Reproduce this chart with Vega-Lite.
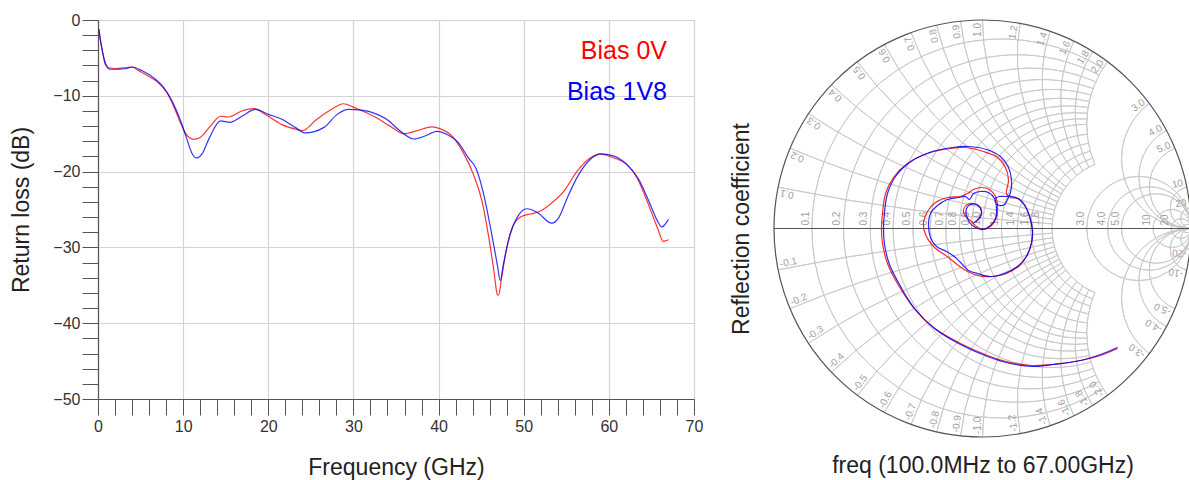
{
  "$schema": "https://vega.github.io/schema/vega-lite/v6.json",
  "background": "white",
  "padding": {"left": 9, "top": 11, "right": 0, "bottom": 0},
  "config": {"font": "Liberation Sans", "view": {"stroke": "#8c8c8c", "strokeWidth": 1}},
  "spacing": 80,
  "bounds": "flush",
  "resolve": {"scale": {"color": "independent"}, "legend": {"color": "independent"}},
  "datasets": {
    "rl": [
      {"series": "Bias 0V", "f": 0.1, "db": -1.2}, {"series": "Bias 0V", "f": 0.27, "db": -2.55}, {"series": "Bias 0V", "f": 0.55, "db": -4.3}, {"series": "Bias 0V", "f": 0.86, "db": -5.6}, {"series": "Bias 0V", "f": 1.25, "db": -6.3}, {"series": "Bias 0V", "f": 2.0, "db": -6.4}, {"series": "Bias 0V", "f": 3.2, "db": -6.3}, {"series": "Bias 0V", "f": 4.0, "db": -6.2}, {"series": "Bias 0V", "f": 4.8, "db": -6.7}, {"series": "Bias 0V", "f": 5.9, "db": -7.4}, {"series": "Bias 0V", "f": 7.1, "db": -8.3}, {"series": "Bias 0V", "f": 8.1, "db": -9.6}, {"series": "Bias 0V", "f": 8.9, "db": -11.4}, {"series": "Bias 0V", "f": 9.7, "db": -13.6}, {"series": "Bias 0V", "f": 10.25, "db": -14.9}, {"series": "Bias 0V", "f": 11.2, "db": -15.75}, {"series": "Bias 0V", "f": 12.0, "db": -15.5}, {"series": "Bias 0V", "f": 13.2, "db": -14.0}, {"series": "Bias 0V", "f": 14.4, "db": -12.7}, {"series": "Bias 0V", "f": 15.3, "db": -12.8}, {"series": "Bias 0V", "f": 16.9, "db": -12.0}, {"series": "Bias 0V", "f": 18.3, "db": -11.7}, {"series": "Bias 0V", "f": 20.0, "db": -12.7}, {"series": "Bias 0V", "f": 21.6, "db": -13.8}, {"series": "Bias 0V", "f": 23.2, "db": -14.4}, {"series": "Bias 0V", "f": 24.0, "db": -14.6}, {"series": "Bias 0V", "f": 25.7, "db": -13.1}, {"series": "Bias 0V", "f": 27.7, "db": -11.6}, {"series": "Bias 0V", "f": 28.8, "db": -11.05}, {"series": "Bias 0V", "f": 30.4, "db": -11.7}, {"series": "Bias 0V", "f": 32.4, "db": -12.7}, {"series": "Bias 0V", "f": 34.3, "db": -14.0}, {"series": "Bias 0V", "f": 35.9, "db": -15.0}, {"series": "Bias 0V", "f": 37.5, "db": -14.6}, {"series": "Bias 0V", "f": 39.2, "db": -14.1}, {"series": "Bias 0V", "f": 40.3, "db": -14.4}, {"series": "Bias 0V", "f": 41.4, "db": -15.1}, {"series": "Bias 0V", "f": 42.9, "db": -17.5}, {"series": "Bias 0V", "f": 44.1, "db": -20.4}, {"series": "Bias 0V", "f": 45.1, "db": -23.9}, {"series": "Bias 0V", "f": 45.9, "db": -28.7}, {"series": "Bias 0V", "f": 46.5, "db": -33.1}, {"series": "Bias 0V", "f": 46.9, "db": -36.2}, {"series": "Bias 0V", "f": 47.05, "db": -36.3}, {"series": "Bias 0V", "f": 47.4, "db": -34.0}, {"series": "Bias 0V", "f": 48.0, "db": -30.1}, {"series": "Bias 0V", "f": 48.8, "db": -27.0}, {"series": "Bias 0V", "f": 49.8, "db": -25.9}, {"series": "Bias 0V", "f": 50.8, "db": -25.6}, {"series": "Bias 0V", "f": 51.95, "db": -25.2}, {"series": "Bias 0V", "f": 53.1, "db": -24.3}, {"series": "Bias 0V", "f": 54.7, "db": -22.6}, {"series": "Bias 0V", "f": 56.3, "db": -19.9}, {"series": "Bias 0V", "f": 57.8, "db": -18.2}, {"series": "Bias 0V", "f": 59.0, "db": -17.7}, {"series": "Bias 0V", "f": 60.6, "db": -18.2}, {"series": "Bias 0V", "f": 62.1, "db": -19.05}, {"series": "Bias 0V", "f": 63.3, "db": -20.8}, {"series": "Bias 0V", "f": 64.5, "db": -23.9}, {"series": "Bias 0V", "f": 65.7, "db": -27.4}, {"series": "Bias 0V", "f": 66.4, "db": -29.2}, {"series": "Bias 0V", "f": 67.0, "db": -29.0},
      {"series": "Bias 1V8", "f": 0.1, "db": -1.2}, {"series": "Bias 1V8", "f": 0.27, "db": -2.55}, {"series": "Bias 1V8", "f": 0.55, "db": -4.3}, {"series": "Bias 1V8", "f": 0.86, "db": -5.85}, {"series": "Bias 1V8", "f": 1.45, "db": -6.5}, {"series": "Bias 1V8", "f": 2.4, "db": -6.5}, {"series": "Bias 1V8", "f": 3.4, "db": -6.4}, {"series": "Bias 1V8", "f": 4.0, "db": -6.2}, {"series": "Bias 1V8", "f": 5.2, "db": -6.7}, {"series": "Bias 1V8", "f": 6.5, "db": -7.6}, {"series": "Bias 1V8", "f": 7.7, "db": -8.9}, {"series": "Bias 1V8", "f": 8.7, "db": -10.7}, {"series": "Bias 1V8", "f": 9.7, "db": -13.3}, {"series": "Bias 1V8", "f": 10.45, "db": -15.75}, {"series": "Bias 1V8", "f": 11.0, "db": -17.5}, {"series": "Bias 1V8", "f": 11.6, "db": -18.2}, {"series": "Bias 1V8", "f": 12.2, "db": -17.7}, {"series": "Bias 1V8", "f": 13.0, "db": -15.75}, {"series": "Bias 1V8", "f": 14.4, "db": -13.3}, {"series": "Bias 1V8", "f": 15.5, "db": -13.5}, {"series": "Bias 1V8", "f": 16.9, "db": -12.7}, {"series": "Bias 1V8", "f": 18.5, "db": -11.8}, {"series": "Bias 1V8", "f": 20.0, "db": -12.45}, {"series": "Bias 1V8", "f": 21.6, "db": -13.1}, {"series": "Bias 1V8", "f": 23.2, "db": -14.2}, {"series": "Bias 1V8", "f": 24.35, "db": -14.9}, {"series": "Bias 1V8", "f": 26.5, "db": -14.2}, {"series": "Bias 1V8", "f": 28.1, "db": -12.45}, {"series": "Bias 1V8", "f": 29.4, "db": -11.8}, {"series": "Bias 1V8", "f": 31.0, "db": -11.9}, {"series": "Bias 1V8", "f": 32.8, "db": -12.45}, {"series": "Bias 1V8", "f": 33.9, "db": -13.1}, {"series": "Bias 1V8", "f": 35.5, "db": -14.65}, {"series": "Bias 1V8", "f": 37.1, "db": -15.7}, {"series": "Bias 1V8", "f": 38.4, "db": -15.3}, {"series": "Bias 1V8", "f": 39.8, "db": -14.7}, {"series": "Bias 1V8", "f": 41.0, "db": -15.1}, {"series": "Bias 1V8", "f": 42.35, "db": -16.2}, {"series": "Bias 1V8", "f": 43.5, "db": -18.2}, {"series": "Bias 1V8", "f": 44.4, "db": -19.6}, {"series": "Bias 1V8", "f": 45.3, "db": -23.0}, {"series": "Bias 1V8", "f": 46.1, "db": -27.4}, {"series": "Bias 1V8", "f": 46.9, "db": -32.3}, {"series": "Bias 1V8", "f": 47.25, "db": -34.4}, {"series": "Bias 1V8", "f": 47.6, "db": -32.3}, {"series": "Bias 1V8", "f": 48.4, "db": -28.3}, {"series": "Bias 1V8", "f": 49.2, "db": -26.1}, {"series": "Bias 1V8", "f": 50.4, "db": -24.9}, {"series": "Bias 1V8", "f": 51.6, "db": -25.4}, {"series": "Bias 1V8", "f": 53.3, "db": -26.8}, {"series": "Bias 1V8", "f": 54.1, "db": -26.1}, {"series": "Bias 1V8", "f": 55.1, "db": -23.5}, {"series": "Bias 1V8", "f": 56.45, "db": -20.4}, {"series": "Bias 1V8", "f": 57.8, "db": -18.4}, {"series": "Bias 1V8", "f": 59.0, "db": -17.65}, {"series": "Bias 1V8", "f": 60.6, "db": -17.95}, {"series": "Bias 1V8", "f": 62.1, "db": -19.05}, {"series": "Bias 1V8", "f": 63.5, "db": -21.0}, {"series": "Bias 1V8", "f": 64.7, "db": -23.9}, {"series": "Bias 1V8", "f": 65.7, "db": -26.5}, {"series": "Bias 1V8", "f": 66.2, "db": -27.3}, {"series": "Bias 1V8", "f": 67.0, "db": -26.3}
    ],
    "grid": [
      {"gx": 0.0909, "gy": 0, "rad": 0.9091, "t1": -3.7070, "t2": 0.5654},
      {"gx": 0.1667, "gy": 0, "rad": 0.8333, "t1": -3.6316, "t2": 0.4900},
      {"gx": 0.2308, "gy": 0, "rad": 0.7692, "t1": -3.5596, "t2": 0.4180},
      {"gx": 0.2857, "gy": 0, "rad": 0.7143, "t1": -3.4910, "t2": 0.3494},
      {"gx": 0.3333, "gy": 0, "rad": 0.6667, "t1": -3.4254, "t2": 0.2838},
      {"gx": 0.375, "gy": 0, "rad": 0.625, "t1": -3.3630, "t2": 0.2214},
      {"gx": 0.4118, "gy": 0, "rad": 0.5882, "t1": -3.3034, "t2": 0.1618},
      {"gx": 0.4444, "gy": 0, "rad": 0.5556, "t1": -3.2468, "t2": 0.1052},
      {"gx": 0.4737, "gy": 0, "rad": 0.5263, "t1": -3.1928, "t2": 0.0512},
      {"gx": 0.5, "gy": 0, "rad": 0.5, "t1": -3.1416, "t2": 0},
      {"gx": 0.5455, "gy": 0, "rad": 0.4545, "t1": -3.0464, "t2": -0.0952},
      {"gx": 0.5833, "gy": 0, "rad": 0.4167, "t1": -2.9602, "t2": -0.1814},
      {"gx": 0.6154, "gy": 0, "rad": 0.3846, "t1": -2.8822, "t2": -0.2594},
      {"gx": 0.6429, "gy": 0, "rad": 0.3571, "t1": -2.8112, "t2": -0.3304},
      {"gx": 0.6667, "gy": 0, "rad": 0.3333, "t1": -2.7468, "t2": -0.3948},
      {"gx": 0.75, "gy": 0, "rad": 0.25, "t1": 0, "t2": 6.2832},
      {"gx": 0.8, "gy": 0, "rad": 0.2, "t1": 0, "t2": 6.2832},
      {"gx": 0.8333, "gy": 0, "rad": 0.1667, "t1": 0, "t2": 6.2832},
      {"gx": 0.9091, "gy": 0, "rad": 0.0909, "t1": 0, "t2": 6.2832},
      {"gx": 0.9524, "gy": 0, "rad": 0.0476, "t1": 0, "t2": 6.2832},
      {"gx": 0.9804, "gy": 0, "rad": 0.0196, "t1": 0, "t2": 6.2832},
      {"gx": 1, "gy": 10, "rad": 10, "t1": 3.2082, "t2": 3.3409},
      {"gx": 1, "gy": 5, "rad": 5, "t1": 3.2747, "t2": 3.5364},
      {"gx": 1, "gy": 3.3333, "rad": 3.3333, "t1": 3.3409, "t2": 3.7245},
      {"gx": 1, "gy": 2.5, "rad": 2.5, "t1": 3.4067, "t2": 3.9026},
      {"gx": 1, "gy": 2, "rad": 2, "t1": 3.4719, "t2": 4.0689},
      {"gx": 1, "gy": 1.6667, "rad": 1.6667, "t1": 3.5364, "t2": 4.2224},
      {"gx": 1, "gy": 1.4286, "rad": 1.4286, "t1": 3.6001, "t2": 4.3630},
      {"gx": 1, "gy": 1.25, "rad": 1.25, "t1": 3.6631, "t2": 4.4911},
      {"gx": 1, "gy": 1.1111, "rad": 1.1111, "t1": 3.7245, "t2": 4.6072},
      {"gx": 1, "gy": 1, "rad": 1, "t1": 3.7851, "t2": 4.7124},
      {"gx": 1, "gy": 0.8333, "rad": 0.8333, "t1": 3.9026, "t2": 4.8937},
      {"gx": 1, "gy": 0.7143, "rad": 0.7143, "t1": 4.0163, "t2": 5.0427},
      {"gx": 1, "gy": 0.625, "rad": 0.625, "t1": 4.1215, "t2": 5.1660},
      {"gx": 1, "gy": 0.5556, "rad": 0.5556, "t1": 4.2224, "t2": 5.2690},
      {"gx": 1, "gy": 0.5, "rad": 0.5, "t1": 4.3176, "t2": 5.3559},
      {"gx": 1, "gy": -10, "rad": 10, "t1": -0.1993, "t2": -0.0666},
      {"gx": 1, "gy": -5, "rad": 5, "t1": -0.3948, "t2": -0.1331},
      {"gx": 1, "gy": -3.3333, "rad": 3.3333, "t1": -0.5829, "t2": -0.1993},
      {"gx": 1, "gy": -2.5, "rad": 2.5, "t1": -0.7610, "t2": -0.2651},
      {"gx": 1, "gy": -2, "rad": 2, "t1": -0.9273, "t2": -0.3303},
      {"gx": 1, "gy": -1.6667, "rad": 1.6667, "t1": -1.0808, "t2": -0.3948},
      {"gx": 1, "gy": -1.4286, "rad": 1.4286, "t1": -1.2215, "t2": -0.4585},
      {"gx": 1, "gy": -1.25, "rad": 1.25, "t1": -1.3495, "t2": -0.5215},
      {"gx": 1, "gy": -1.1111, "rad": 1.1111, "t1": -1.4656, "t2": -0.5829},
      {"gx": 1, "gy": -1, "rad": 1, "t1": -1.5708, "t2": -0.6435},
      {"gx": 1, "gy": -0.8333, "rad": 0.8333, "t1": -1.7521, "t2": -0.7610},
      {"gx": 1, "gy": -0.7143, "rad": 0.7143, "t1": -1.9011, "t2": -0.8747},
      {"gx": 1, "gy": -0.625, "rad": 0.625, "t1": -2.0244, "t2": -0.9799},
      {"gx": 1, "gy": -0.5556, "rad": 0.5556, "t1": -2.1274, "t2": -1.0808},
      {"gx": 1, "gy": -0.5, "rad": 0.5, "t1": -2.2143, "t2": -1.1760},
      {"gx": 1, "gy": 0.3333, "rad": 0.3333, "t1": 3.1416, "t2": 5.6397},
      {"gx": 1, "gy": 0.25, "rad": 0.25, "t1": 3.1416, "t2": 5.7932},
      {"gx": 1, "gy": 0.2, "rad": 0.2, "t1": 3.1416, "t2": 5.8884},
      {"gx": 1, "gy": 0.1, "rad": 0.1, "t1": 3.1416, "t2": 6.0839},
      {"gx": 1, "gy": 0.05, "rad": 0.05, "t1": 3.1416, "t2": 6.1833},
      {"gx": 1, "gy": -0.3333, "rad": 0.3333, "t1": -2.4981, "t2": 0},
      {"gx": 1, "gy": -0.25, "rad": 0.25, "t1": -2.6516, "t2": 0},
      {"gx": 1, "gy": -0.2, "rad": 0.2, "t1": -2.7468, "t2": 0},
      {"gx": 1, "gy": -0.1, "rad": 0.1, "t1": -2.9423, "t2": 0},
      {"gx": 1, "gy": -0.05, "rad": 0.05, "t1": -3.0417, "t2": 0}
    ],
    "rim": [{"gx": 0, "gy": 0, "rad": 1, "t1": 0, "t2": 6.2832}],
    "axisline": [{"gx": -1, "gx2": 1, "gy": 0}],
    "rlab": [
      {"lab": "0.1", "gx": -0.8182, "gy": 0}, {"lab": "0.2", "gx": -0.6667, "gy": 0}, {"lab": "0.3", "gx": -0.5385, "gy": 0}, {"lab": "0.4", "gx": -0.4286, "gy": 0}, {"lab": "0.5", "gx": -0.3333, "gy": 0}, {"lab": "0.6", "gx": -0.25, "gy": 0}, {"lab": "0.7", "gx": -0.1765, "gy": 0}, {"lab": "0.8", "gx": -0.1111, "gy": 0}, {"lab": "0.9", "gx": -0.0526, "gy": 0}, {"lab": "1.0", "gx": 0, "gy": 0}, {"lab": "1.2", "gx": 0.0909, "gy": 0}, {"lab": "1.4", "gx": 0.1667, "gy": 0}, {"lab": "1.6", "gx": 0.2308, "gy": 0}, {"lab": "1.8", "gx": 0.2857, "gy": 0}, {"lab": "3.0", "gx": 0.5, "gy": 0}, {"lab": "4.0", "gx": 0.6, "gy": 0}, {"lab": "5.0", "gx": 0.6667, "gy": 0}, {"lab": "10", "gx": 0.8182, "gy": 0}, {"lab": "20", "gx": 0.9048, "gy": 0}
    ],
    "ulab": [
      {"lab": "0.1", "gx": -0.9802, "gy": 0.198}, {"lab": "0.2", "gx": -0.9231, "gy": 0.3846}, {"lab": "0.3", "gx": -0.8349, "gy": 0.5505}, {"lab": "0.4", "gx": -0.7241, "gy": 0.6897}, {"lab": "0.5", "gx": -0.6, "gy": 0.8}, {"lab": "0.6", "gx": -0.4706, "gy": 0.8824}, {"lab": "0.7", "gx": -0.3423, "gy": 0.9396}, {"lab": "0.8", "gx": -0.2195, "gy": 0.9756}, {"lab": "0.9", "gx": -0.105, "gy": 0.9945}, {"lab": "1.0", "gx": 0.0001, "gy": 1}, {"lab": "1.2", "gx": 0.1803, "gy": 0.9836}, {"lab": "1.4", "gx": 0.3243, "gy": 0.9459}, {"lab": "1.6", "gx": 0.4382, "gy": 0.8989}, {"lab": "1.8", "gx": 0.5283, "gy": 0.8491}, {"lab": "2.0", "gx": 0.6, "gy": 0.8}, {"lab": "3.0", "gx": 0.8, "gy": 0.6}, {"lab": "4.0", "gx": 0.8824, "gy": 0.4706}, {"lab": "5.0", "gx": 0.9231, "gy": 0.3846}, {"lab": "10", "gx": 0.9802, "gy": 0.198}, {"lab": "20", "gx": 0.995, "gy": 0.0998}
    ],
    "llab": [
      {"lab": "-0.1", "gx": -0.9802, "gy": -0.198}, {"lab": "-0.2", "gx": -0.9231, "gy": -0.3846}, {"lab": "-0.3", "gx": -0.8349, "gy": -0.5505}, {"lab": "-0.4", "gx": -0.7241, "gy": -0.6897}, {"lab": "-0.5", "gx": -0.6, "gy": -0.8}, {"lab": "-0.6", "gx": -0.4706, "gy": -0.8824}, {"lab": "-0.7", "gx": -0.3423, "gy": -0.9396}, {"lab": "-0.8", "gx": -0.2195, "gy": -0.9756}, {"lab": "-0.9", "gx": -0.105, "gy": -0.9945}, {"lab": "-1.0", "gx": 0.0001, "gy": -1}, {"lab": "-1.2", "gx": 0.1803, "gy": -0.9836}, {"lab": "-1.4", "gx": 0.3243, "gy": -0.9459}, {"lab": "-1.6", "gx": 0.4382, "gy": -0.8989}, {"lab": "-1.8", "gx": 0.5283, "gy": -0.8491}, {"lab": "-2.0", "gx": 0.6, "gy": -0.8}, {"lab": "-3.0", "gx": 0.8, "gy": -0.6}, {"lab": "-4.0", "gx": 0.8824, "gy": -0.4706}, {"lab": "-5.0", "gx": 0.9231, "gy": -0.3846}, {"lab": "-10", "gx": 0.9802, "gy": -0.198}, {"lab": "-20", "gx": 0.995, "gy": -0.0998}
    ],
    "s11": [
      {"series": "Bias 0V", "i": 1, "gx": 0.6475, "gy": -0.5755}, {"series": "Bias 0V", "i": 2, "gx": 0.566, "gy": -0.609}, {"series": "Bias 0V", "i": 3, "gx": 0.47, "gy": -0.633}, {"series": "Bias 0V", "i": 4, "gx": 0.3405, "gy": -0.652}, {"series": "Bias 0V", "i": 5, "gx": 0.24, "gy": -0.657}, {"series": "Bias 0V", "i": 6, "gx": 0.134, "gy": -0.643}, {"series": "Bias 0V", "i": 7, "gx": 0.024, "gy": -0.609}, {"series": "Bias 0V", "i": 8, "gx": -0.1055, "gy": -0.5516}, {"series": "Bias 0V", "i": 9, "gx": -0.235, "gy": -0.4748}, {"series": "Bias 0V", "i": 10, "gx": -0.331, "gy": -0.379}, {"series": "Bias 0V", "i": 11, "gx": -0.408, "gy": -0.264}, {"series": "Bias 0V", "i": 12, "gx": -0.4556, "gy": -0.168}, {"series": "Bias 0V", "i": 13, "gx": -0.4796, "gy": -0.072}, {"series": "Bias 0V", "i": 14, "gx": -0.4844, "gy": 0}, {"series": "Bias 0V", "i": 15, "gx": -0.4796, "gy": 0.072}, {"series": "Bias 0V", "i": 16, "gx": -0.465, "gy": 0.168}, {"series": "Bias 0V", "i": 17, "gx": -0.427, "gy": 0.2446}, {"series": "Bias 0V", "i": 18, "gx": -0.3597, "gy": 0.3118}, {"series": "Bias 0V", "i": 19, "gx": -0.2638, "gy": 0.3597}, {"series": "Bias 0V", "i": 20, "gx": -0.1535, "gy": 0.3837}, {"series": "Bias 0V", "i": 21, "gx": -0.0815, "gy": 0.3885}, {"series": "Bias 0V", "i": 22, "gx": 0.0048, "gy": 0.3693}, {"series": "Bias 0V", "i": 23, "gx": 0.0719, "gy": 0.3405}, {"series": "Bias 0V", "i": 24, "gx": 0.1103, "gy": 0.2926}, {"series": "Bias 0V", "i": 25, "gx": 0.1247, "gy": 0.2302}, {"series": "Bias 0V", "i": 26, "gx": 0.1151, "gy": 0.1679}, {"series": "Bias 0V", "i": 27, "gx": 0.1343, "gy": 0.1487}, {"series": "Bias 0V", "i": 28, "gx": 0.1727, "gy": 0.1439}, {"series": "Bias 0V", "i": 29, "gx": 0.2014, "gy": 0.1151}, {"series": "Bias 0V", "i": 30, "gx": 0.2254, "gy": 0.0576}, {"series": "Bias 0V", "i": 31, "gx": 0.2398, "gy": -0.0096}, {"series": "Bias 0V", "i": 32, "gx": 0.235, "gy": -0.0671}, {"series": "Bias 0V", "i": 33, "gx": 0.2158, "gy": -0.1247}, {"series": "Bias 0V", "i": 34, "gx": 0.1775, "gy": -0.1775}, {"series": "Bias 0V", "i": 35, "gx": 0.1151, "gy": -0.2158}, {"series": "Bias 0V", "i": 36, "gx": 0.048, "gy": -0.2302}, {"series": "Bias 0V", "i": 37, "gx": -0.024, "gy": -0.2254}, {"series": "Bias 0V", "i": 38, "gx": -0.0959, "gy": -0.1918}, {"series": "Bias 0V", "i": 39, "gx": -0.1631, "gy": -0.1391}, {"series": "Bias 0V", "i": 40, "gx": -0.235, "gy": -0.0863}, {"series": "Bias 0V", "i": 41, "gx": -0.2734, "gy": -0.0288}, {"series": "Bias 0V", "i": 42, "gx": -0.283, "gy": 0.0288}, {"series": "Bias 0V", "i": 43, "gx": -0.2638, "gy": 0.0815}, {"series": "Bias 0V", "i": 44, "gx": -0.2254, "gy": 0.1247}, {"series": "Bias 0V", "i": 45, "gx": -0.1679, "gy": 0.1487}, {"series": "Bias 0V", "i": 46, "gx": -0.1055, "gy": 0.1535}, {"series": "Bias 0V", "i": 47, "gx": -0.0719, "gy": 0.1679}, {"series": "Bias 0V", "i": 48, "gx": -0.0432, "gy": 0.1871}, {"series": "Bias 0V", "i": 49, "gx": -0.0048, "gy": 0.1966}, {"series": "Bias 0V", "i": 50, "gx": 0.0336, "gy": 0.1871}, {"series": "Bias 0V", "i": 51, "gx": 0.0624, "gy": 0.1535}, {"series": "Bias 0V", "i": 52, "gx": 0.0719, "gy": 0.1055}, {"series": "Bias 0V", "i": 53, "gx": 0.0671, "gy": 0.0528}, {"series": "Bias 0V", "i": 54, "gx": 0.0432, "gy": 0.0144}, {"series": "Bias 0V", "i": 55, "gx": 0.0048, "gy": -0.0048}, {"series": "Bias 0V", "i": 56, "gx": -0.0288, "gy": 0.0096}, {"series": "Bias 0V", "i": 57, "gx": -0.0528, "gy": 0.0336}, {"series": "Bias 0V", "i": 58, "gx": -0.0815, "gy": 0.0576}, {"series": "Bias 0V", "i": 59, "gx": -0.0911, "gy": 0.0911}, {"series": "Bias 0V", "i": 60, "gx": -0.0719, "gy": 0.1151}, {"series": "Bias 0V", "i": 61, "gx": -0.0432, "gy": 0.1199}, {"series": "Bias 0V", "i": 62, "gx": -0.0144, "gy": 0.1055}, {"series": "Bias 0V", "i": 63, "gx": -0.0048, "gy": 0.0767}, {"series": "Bias 0V", "i": 64, "gx": -0.0192, "gy": 0.048}, {"series": "Bias 0V", "i": 65, "gx": -0.0336, "gy": 0.0336},
      {"series": "Bias 1V8", "i": 1, "gx": 0.6475, "gy": -0.5707}, {"series": "Bias 1V8", "i": 2, "gx": 0.566, "gy": -0.6043}, {"series": "Bias 1V8", "i": 3, "gx": 0.47, "gy": -0.6331}, {"series": "Bias 1V8", "i": 4, "gx": 0.3405, "gy": -0.6523}, {"series": "Bias 1V8", "i": 5, "gx": 0.2398, "gy": -0.6619}, {"series": "Bias 1V8", "i": 6, "gx": 0.1343, "gy": -0.6475}, {"series": "Bias 1V8", "i": 7, "gx": 0.024, "gy": -0.6139}, {"series": "Bias 1V8", "i": 8, "gx": -0.1055, "gy": -0.5564}, {"series": "Bias 1V8", "i": 9, "gx": -0.2302, "gy": -0.4796}, {"series": "Bias 1V8", "i": 10, "gx": -0.3261, "gy": -0.3837}, {"series": "Bias 1V8", "i": 11, "gx": -0.3981, "gy": -0.2686}, {"series": "Bias 1V8", "i": 12, "gx": -0.446, "gy": -0.1727}, {"series": "Bias 1V8", "i": 13, "gx": -0.47, "gy": -0.0767}, {"series": "Bias 1V8", "i": 14, "gx": -0.4748, "gy": 0}, {"series": "Bias 1V8", "i": 15, "gx": -0.47, "gy": 0.0767}, {"series": "Bias 1V8", "i": 16, "gx": -0.4556, "gy": 0.1679}, {"series": "Bias 1V8", "i": 17, "gx": -0.4173, "gy": 0.2494}, {"series": "Bias 1V8", "i": 18, "gx": -0.3501, "gy": 0.3165}, {"series": "Bias 1V8", "i": 19, "gx": -0.2542, "gy": 0.3645}, {"series": "Bias 1V8", "i": 20, "gx": -0.1439, "gy": 0.3885}, {"series": "Bias 1V8", "i": 21, "gx": -0.0671, "gy": 0.3933}, {"series": "Bias 1V8", "i": 22, "gx": 0.0192, "gy": 0.3789}, {"series": "Bias 1V8", "i": 23, "gx": 0.0863, "gy": 0.3453}, {"series": "Bias 1V8", "i": 24, "gx": 0.1247, "gy": 0.2926}, {"series": "Bias 1V8", "i": 25, "gx": 0.1391, "gy": 0.2302}, {"series": "Bias 1V8", "i": 26, "gx": 0.1343, "gy": 0.1727}, {"series": "Bias 1V8", "i": 27, "gx": 0.1199, "gy": 0.1391}, {"series": "Bias 1V8", "i": 28, "gx": 0.1055, "gy": 0.1151}, {"series": "Bias 1V8", "i": 29, "gx": 0.0815, "gy": 0.1103}, {"series": "Bias 1V8", "i": 30, "gx": 0.0624, "gy": 0.1247}, {"series": "Bias 1V8", "i": 31, "gx": 0.0624, "gy": 0.1439}, {"series": "Bias 1V8", "i": 32, "gx": 0.0815, "gy": 0.1535}, {"series": "Bias 1V8", "i": 33, "gx": 0.1103, "gy": 0.1535}, {"series": "Bias 1V8", "i": 34, "gx": 0.1439, "gy": 0.1535}, {"series": "Bias 1V8", "i": 35, "gx": 0.1823, "gy": 0.1343}, {"series": "Bias 1V8", "i": 36, "gx": 0.211, "gy": 0.0959}, {"series": "Bias 1V8", "i": 37, "gx": 0.2302, "gy": 0.0432}, {"series": "Bias 1V8", "i": 38, "gx": 0.2398, "gy": -0.0144}, {"series": "Bias 1V8", "i": 39, "gx": 0.235, "gy": -0.0719}, {"series": "Bias 1V8", "i": 40, "gx": 0.211, "gy": -0.1343}, {"series": "Bias 1V8", "i": 41, "gx": 0.1679, "gy": -0.1823}, {"series": "Bias 1V8", "i": 42, "gx": 0.1055, "gy": -0.2158}, {"series": "Bias 1V8", "i": 43, "gx": 0.0384, "gy": -0.2302}, {"series": "Bias 1V8", "i": 44, "gx": -0.024, "gy": -0.2158}, {"series": "Bias 1V8", "i": 45, "gx": -0.0671, "gy": -0.2014}, {"series": "Bias 1V8", "i": 46, "gx": -0.0959, "gy": -0.1727}, {"series": "Bias 1V8", "i": 47, "gx": -0.1295, "gy": -0.1391}, {"series": "Bias 1V8", "i": 48, "gx": -0.1727, "gy": -0.1103}, {"series": "Bias 1V8", "i": 49, "gx": -0.2206, "gy": -0.0863}, {"series": "Bias 1V8", "i": 50, "gx": -0.2494, "gy": -0.0432}, {"series": "Bias 1V8", "i": 51, "gx": -0.259, "gy": 0.0144}, {"series": "Bias 1V8", "i": 52, "gx": -0.2494, "gy": 0.0719}, {"series": "Bias 1V8", "i": 53, "gx": -0.2158, "gy": 0.1103}, {"series": "Bias 1V8", "i": 54, "gx": -0.1679, "gy": 0.1391}, {"series": "Bias 1V8", "i": 55, "gx": -0.1151, "gy": 0.1487}, {"series": "Bias 1V8", "i": 56, "gx": -0.0815, "gy": 0.1535}, {"series": "Bias 1V8", "i": 57, "gx": -0.0624, "gy": 0.1391}, {"series": "Bias 1V8", "i": 58, "gx": -0.0432, "gy": 0.1679}, {"series": "Bias 1V8", "i": 59, "gx": -0.0096, "gy": 0.1775}, {"series": "Bias 1V8", "i": 60, "gx": 0.0288, "gy": 0.1727}, {"series": "Bias 1V8", "i": 61, "gx": 0.0576, "gy": 0.1439}, {"series": "Bias 1V8", "i": 62, "gx": 0.0671, "gy": 0.0959}, {"series": "Bias 1V8", "i": 63, "gx": 0.0624, "gy": 0.048}, {"series": "Bias 1V8", "i": 64, "gx": 0.0384, "gy": 0.0144}, {"series": "Bias 1V8", "i": 65, "gx": 0, "gy": -0.0048}, {"series": "Bias 1V8", "i": 66, "gx": -0.0336, "gy": 0.0048}, {"series": "Bias 1V8", "i": 67, "gx": -0.0624, "gy": 0.0288}, {"series": "Bias 1V8", "i": 68, "gx": -0.0767, "gy": 0.0624}, {"series": "Bias 1V8", "i": 69, "gx": -0.0767, "gy": 0.0959}, {"series": "Bias 1V8", "i": 70, "gx": -0.0576, "gy": 0.1151}, {"series": "Bias 1V8", "i": 71, "gx": -0.0288, "gy": 0.1151}, {"series": "Bias 1V8", "i": 72, "gx": -0.0096, "gy": 0.0959}, {"series": "Bias 1V8", "i": 73, "gx": -0.0048, "gy": 0.0671}, {"series": "Bias 1V8", "i": 74, "gx": -0.024, "gy": 0.0384}, {"series": "Bias 1V8", "i": 75, "gx": -0.0432, "gy": 0.0288}
    ]
  },
  "hconcat": [
    {
      "width": 596,
      "height": 379,
      "data": {"name": "rl"},
      "mark": {"type": "line", "strokeWidth": 1.2, "opacity": 0.8, "interpolate": "monotone", "clip": true},
      "encoding": {
        "x": {
          "field": "f", "type": "quantitative",
          "scale": {"domain": [0, 70], "nice": false, "zero": false},
          "axis": {
            "title": "Frequency (GHz)",
            "values": [0, 2, 4, 6, 8, 10, 12, 14, 16, 18, 20, 22, 24, 26, 28, 30, 32, 34, 36, 38, 40, 42, 44, 46, 48, 50, 52, 54, 56, 58, 60, 62, 64, 66, 68, 70],
            "labelExpr": "datum.value % 10 === 0 ? datum.label : ''",
            "labelFlush": false, "labelOverlap": false, "labelFontSize": 16, "labelColor": "#333333", "labelPadding": 3,
            "tickSize": 16, "tickColor": "#555555", "domainColor": "#555555", "domainWidth": 1.2,
            "grid": true, "gridColor": "#d3d3d3", "gridWidth": 1.2,
            "gridOpacity": {"condition": {"test": "datum.value % 10 === 0", "value": 1}, "value": 0},
            "titleFontSize": 23, "titleFontWeight": "normal", "titleColor": "#222222",
            "titleX": 298, "titleY": 68, "titleBaseline": "middle", "titleAlign": "center",
            "encode": {
              "ticks": {"update": {"y2": {"signal": "datum.value % 10 === 0 ? 16 : 8"}}}
            }
          }
        },
        "y": {
          "field": "db", "type": "quantitative",
          "scale": {"domain": [-50, 0], "nice": false, "zero": false},
          "axis": {
            "title": "Return loss (dB)",
            "values": [-50, -48, -46, -44, -42, -40, -38, -36, -34, -32, -30, -28, -26, -24, -22, -20, -18, -16, -14, -12, -10, -8, -6, -4, -2, 0],
            "labelExpr": "datum.value % 10 === 0 ? datum.label : ''",
            "labelFlush": false, "labelOverlap": false, "labelFontSize": 16, "labelColor": "#333333", "labelPadding": 2,
            "tickSize": 16, "tickColor": "#555555", "domainColor": "#555555", "domainWidth": 1.2,
            "grid": true, "gridColor": "#d3d3d3", "gridWidth": 1.2,
            "gridOpacity": {"condition": {"test": "datum.value % 10 === 0", "value": 1}, "value": 0},
            "titleFontSize": 23, "titleFontWeight": "normal", "titleColor": "#222222",
            "titleX": -77, "titleY": 189.5, "titleBaseline": "middle", "titleAlign": "center", "titleAngle": -90,
            "encode": {
              "ticks": {"update": {"x2": {"signal": "datum.value % 10 === 0 ? -16 : -8"}}}
            }
          }
        },
        "color": {
          "field": "series", "type": "nominal",
          "scale": {"domain": ["Bias 0V", "Bias 1V8"], "range": ["#ff0000", "#0000ff"]},
          "legend": {
            "title": null, "orient": "none", "legendX": 544, "legendY": 18,
            "labelFontSize": 25, "labelFont": "Liberation Sans", "labelAlign": "right", "labelLimit": 400,
            "symbolSize": 0, "symbolOpacity": 0, "symbolStrokeWidth": 0, "rowPadding": 15, "labelOffset": 0,
            "encode": {"labels": {"update": {"fill": {"signal": "datum.value === 'Bias 0V' ? '#ff0000' : '#0000ff'"}}}}
          }
        }
      }
    },
    {
      "width": 417,
      "height": 417,
      "view": {"stroke": null},
      "encoding": {
        "x": {
          "field": "gx", "type": "quantitative",
          "scale": {"domain": [-1, 1], "nice": false, "zero": false},
          "axis": {"title": "freq (100.0MHz to 67.00GHz)", "labels": false, "ticks": false, "domain": false, "grid": false,
                   "titleFontSize": 23, "titleFontWeight": "normal", "titleColor": "#222222",
                   "titleX": 208.5, "titleY": 28, "titleBaseline": "middle", "titleAlign": "center"}
        },
        "y": {
          "field": "gy", "type": "quantitative",
          "scale": {"domain": [-1, 1], "nice": false, "zero": false},
          "axis": {"title": "Reflection coefficient", "labels": false, "ticks": false, "domain": false, "grid": false,
                   "titleFontSize": 23, "titleFontWeight": "normal", "titleColor": "#222222",
                   "titleX": -32.5, "titleY": 208.5, "titleBaseline": "middle", "titleAlign": "center", "titleAngle": -90}
        }
      },
      "layer": [
        {
          "data": {"name": "grid"},
          "mark": {"type": "arc", "filled": false, "stroke": "#c8c8c8", "strokeWidth": 0.9, "clip": true},
          "encoding": {
            "theta": {"field": "t1", "type": "quantitative", "scale": null, "stack": null},
            "theta2": {"field": "t2"},
            "radius": {"field": "rad", "type": "quantitative", "scale": {"type": "linear", "domain": [0, 1], "range": [0, 208.5], "zero": true, "nice": false}},
            "radius2": {"field": "rad"}
          }
        },
        {
          "data": {"name": "rim"},
          "mark": {"type": "arc", "filled": false, "stroke": "#555555", "strokeWidth": 1.2},
          "encoding": {
            "theta": {"field": "t1", "type": "quantitative", "scale": null, "stack": null},
            "theta2": {"field": "t2"},
            "radius": {"field": "rad", "type": "quantitative", "scale": {"type": "linear", "domain": [0, 1], "range": [0, 208.5], "zero": true, "nice": false}},
            "radius2": {"field": "rad"}
          }
        },
        {
          "data": {"name": "axisline"},
          "mark": {"type": "rule", "stroke": "#555555", "strokeWidth": 1.2},
          "encoding": {"x2": {"field": "gx2"}}
        },
        {
          "data": {"name": "rlab"},
          "mark": {"type": "text", "angle": 270, "align": "left", "baseline": "bottom", "dx": 3, "dy": -1, "fontSize": 10, "fill": "#a0a0a0"},
          "encoding": {"text": {"field": "lab"}}
        },
        {
          "data": {"name": "ulab"},
          "transform": [{"calculate": "-atan2(datum.gy, datum.gx) * 180 / PI", "as": "ang"}],
          "mark": {"type": "text", "align": "right", "baseline": "bottom", "dx": -3, "fontSize": 10, "fill": "#a0a0a0"},
          "encoding": {"text": {"field": "lab"}, "angle": {"field": "ang", "type": "quantitative", "scale": null}}
        },
        {
          "data": {"name": "llab"},
          "transform": [{"calculate": "-atan2(datum.gy, datum.gx) * 180 / PI - 180", "as": "ang"}],
          "mark": {"type": "text", "align": "left", "baseline": "bottom", "dx": 3, "fontSize": 10, "fill": "#a0a0a0"},
          "encoding": {"text": {"field": "lab"}, "angle": {"field": "ang", "type": "quantitative", "scale": null}}
        },
        {
          "data": {"name": "s11"},
          "mark": {"type": "line", "strokeWidth": 1.2, "opacity": 0.85, "interpolate": "catmull-rom"},
          "encoding": {
            "color": {"field": "series", "type": "nominal", "scale": {"domain": ["Bias 0V", "Bias 1V8"], "range": ["#ff0000", "#0000ff"]}, "legend": null},
            "order": {"field": "i", "type": "quantitative"}
          }
        }
      ]
    }
  ]
}
